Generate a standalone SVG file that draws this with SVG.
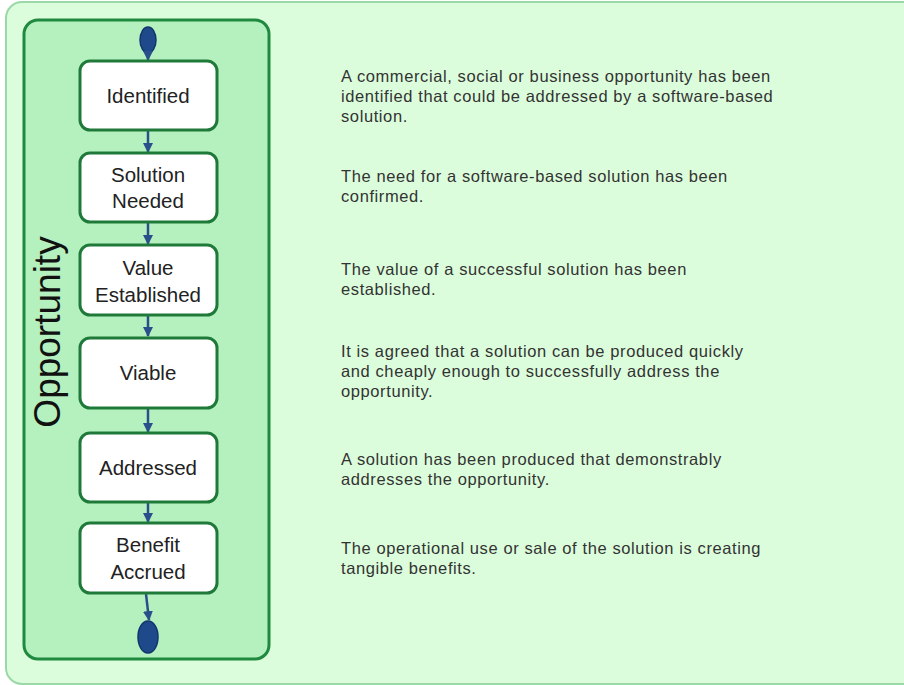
<svg xmlns="http://www.w3.org/2000/svg" width="904" height="685" viewBox="0 0 904 685">
<defs>
<marker id="ah" viewBox="0 0 10 10" refX="9" refY="5" markerWidth="4" markerHeight="4" orient="auto"><path d="M0,0 L10,5 L0,10 z" fill="#2b4f8a"/></marker>
<style>
.node rect{fill:#fff;stroke:#1f7a3a;stroke-width:3}
.node text{font-family:"Liberation Sans",Arial,sans-serif;font-size:20.5px;fill:#222;text-anchor:middle}
.desc{font-family:"Liberation Sans",Arial,sans-serif;font-size:16.5px;fill:#333;letter-spacing:0.6px}
.conn line{stroke:#2b4f8a;stroke-width:2.5;marker-end:url(#ah)}
</style>
</defs>
<rect x="6" y="2" width="920" height="682" rx="16" fill="#dcfddc" stroke="#9bd8a8" stroke-width="2"/>
<g id="panel">
<rect x="24" y="20" width="245" height="639" rx="14" fill="#b5f0bf" stroke="#1f8a3f" stroke-width="3"/>
<text transform="translate(60,332) rotate(-90)" text-anchor="middle" font-family="Liberation Sans,Arial,sans-serif" font-size="37" fill="#111">Opportunity</text>
</g>
<g id="start"><ellipse cx="148" cy="40" rx="8" ry="13" fill="#1e4a8c" stroke="#13356b" stroke-width="1.5"/></g>
<g id="end"><ellipse cx="148" cy="637" rx="10" ry="16" fill="#1e4a8c" stroke="#13356b" stroke-width="1.5"/></g>
<g class="conn">
<line x1="148" y1="52" x2="148" y2="60"/>
<line x1="148" y1="131" x2="148" y2="152"/>
<line x1="148" y1="223" x2="148" y2="244"/>
<line x1="148" y1="316" x2="148" y2="336"/>
<line x1="148" y1="409" x2="148" y2="432"/>
<line x1="148" y1="503" x2="148" y2="522"/>
<line x1="146" y1="594" x2="149" y2="620"/>
</g>
<g id="identified" class="node"><rect x="80" y="61" width="137" height="69" rx="10"/><text x="148" y="103">Identified</text></g>
<g id="solution-needed" class="node"><rect x="80" y="153" width="137" height="69" rx="10"/><text x="148" y="182">Solution</text><text x="148" y="208">Needed</text></g>
<g id="value-established" class="node"><rect x="80" y="245" width="137" height="70" rx="10"/><text x="148" y="275">Value</text><text x="148" y="302">Established</text></g>
<g id="viable" class="node"><rect x="80" y="338" width="137" height="70" rx="10"/><text x="148" y="380">Viable</text></g>
<g id="addressed" class="node"><rect x="80" y="433" width="137" height="69" rx="10"/><text x="148" y="475">Addressed</text></g>
<g id="benefit-accrued" class="node"><rect x="80" y="523" width="137" height="70" rx="10"/><text x="148" y="552">Benefit</text><text x="148" y="579">Accrued</text></g>
<g id="descriptions" class="desc">
<text x="341" y="82">A commercial, social or business opportunity has been</text>
<text x="341" y="102">identified that could be addressed by a software-based</text>
<text x="341" y="122">solution.</text>
<text x="341" y="182">The need for a software-based solution has been</text>
<text x="341" y="202">confirmed.</text>
<text x="341" y="275">The value of a successful solution has been</text>
<text x="341" y="295">established.</text>
<text x="341" y="357">It is agreed that a solution can be produced quickly</text>
<text x="341" y="377">and cheaply enough to successfully address the</text>
<text x="341" y="397">opportunity.</text>
<text x="341" y="465">A solution has been produced that demonstrably</text>
<text x="341" y="485">addresses the opportunity.</text>
<text x="341" y="554">The operational use or sale of the solution is creating</text>
<text x="341" y="574">tangible benefits.</text>
</g>
</svg>
